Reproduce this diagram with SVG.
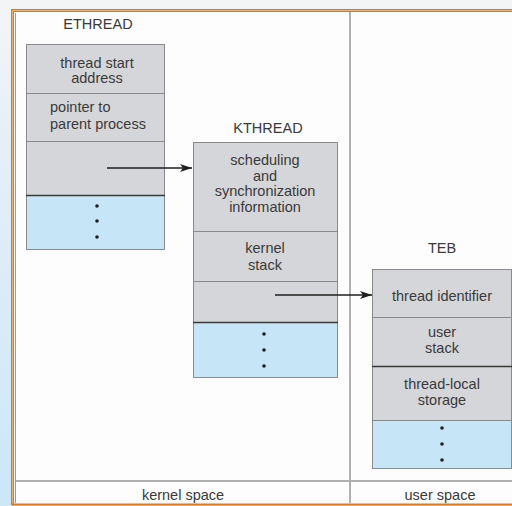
<svg xmlns="http://www.w3.org/2000/svg" width="512" height="506" viewBox="0 0 512 506">
  <defs>
    <linearGradient id="bgSide" x1="0" y1="0" x2="0" y2="1">
      <stop offset="0" stop-color="#f3f5f7"/>
      <stop offset="0.3" stop-color="#e4eff8"/>
      <stop offset="1" stop-color="#cbe7f8"/>
    </linearGradient>
    <marker id="arrow" viewBox="0 0 12 8" refX="12" refY="4" markerWidth="12" markerHeight="8" markerUnits="userSpaceOnUse" orient="auto">
      <path d="M0,0 L12,4 L0,8 L3,4 Z" fill="#1e1e1e"/>
    </marker>
  </defs>
  <style>
    text { font-family: "Liberation Sans", Arial, sans-serif; font-size: 14.5px; fill: #3a3a3a; }
    .c { text-anchor: middle; }
    .cell { fill: #d5d6d9; stroke: #8a8a8a; stroke-width: 1; }
    .more { fill: #c6e6f8; stroke: #8a8a8a; stroke-width: 1; }
    .sep { stroke: #3a3a3a; stroke-width: 1.6; }
    .dot { fill: #1e1e1e; }
    .link { stroke: #1e1e1e; stroke-width: 1.3; fill: none; marker-end: url(#arrow); }
  </style>

  <!-- page background and frame -->
  <rect x="0" y="0" width="512" height="506" fill="url(#bgSide)"/>
  <rect x="0" y="0" width="512" height="10" fill="#f3f4f6"/>
  <rect x="12" y="10" width="510" height="495" fill="#fdfdfd"/>
  <path d="M12.5,505 V10.5 H512" fill="none" stroke="#d77a20" stroke-width="3"/>
  <path d="M12.5,505 V10.5 H512" fill="none" stroke="#f0b070" stroke-width="1"/>
  <line x1="15.5" y1="13" x2="15.5" y2="503" stroke="#9a9a9a" stroke-width="1"/>
  <line x1="12" y1="504.5" x2="512" y2="504.5" stroke="#d77a20" stroke-width="2"/>

  <!-- kernel / user space split -->
  <line x1="350" y1="12" x2="350" y2="503" stroke="#b0b0b0" stroke-width="2"/>
  <line x1="16" y1="481" x2="512" y2="481" stroke="#b0b0b0" stroke-width="2"/>
  <text class="c" x="183" y="500">kernel space</text>
  <text class="c" x="440" y="500">user space</text>

  <!-- ETHREAD -->
  <g id="ethread">
    <text class="c" x="98" y="29">ETHREAD</text>
    <rect class="cell" x="26.5" y="44.5" width="138" height="49"/>
    <rect class="cell" x="26.5" y="93.5" width="138" height="48"/>
    <rect class="cell" x="26.5" y="141.5" width="138" height="54"/>
    <rect class="more" x="26.5" y="195.5" width="138" height="54"/>
    <line class="sep" x1="26" y1="195.5" x2="165" y2="195.5"/>
    <text class="c" x="97" y="68">thread start</text>
    <text class="c" x="97" y="83">address</text>
    <text x="50" y="112">pointer to</text>
    <text x="50" y="129">parent process</text>
    <circle class="dot" cx="97" cy="206" r="1.8"/>
    <circle class="dot" cx="97" cy="221" r="1.8"/>
    <circle class="dot" cx="97" cy="237" r="1.8"/>
  </g>

  <!-- KTHREAD -->
  <g id="kthread">
    <text class="c" x="268" y="133">KTHREAD</text>
    <rect class="cell" x="193.5" y="142.5" width="144" height="89"/>
    <rect class="cell" x="193.5" y="231.5" width="144" height="50"/>
    <rect class="cell" x="193.5" y="281.5" width="144" height="41"/>
    <rect class="more" x="193.5" y="322.5" width="144" height="55"/>
    <line class="sep" x1="193" y1="322.5" x2="338" y2="322.5"/>
    <text class="c" x="265" y="165">scheduling</text>
    <text class="c" x="265" y="181">and</text>
    <text class="c" x="265" y="196">synchronization</text>
    <text class="c" x="265" y="212">information</text>
    <text class="c" x="265" y="253">kernel</text>
    <text class="c" x="265" y="270">stack</text>
    <circle class="dot" cx="264" cy="334" r="1.8"/>
    <circle class="dot" cx="264" cy="350" r="1.8"/>
    <circle class="dot" cx="264" cy="366" r="1.8"/>
  </g>

  <!-- TEB -->
  <g id="teb">
    <text class="c" x="442" y="253">TEB</text>
    <rect class="cell" x="372.5" y="269.5" width="139" height="48"/>
    <rect class="cell" x="372.5" y="317.5" width="139" height="49"/>
    <rect class="cell" x="372.5" y="366.5" width="139" height="54"/>
    <rect class="more" x="372.5" y="420.5" width="139" height="48"/>
    <line class="sep" x1="372" y1="366.5" x2="512" y2="366.5"/>
    <text class="c" x="442" y="301">thread identifier</text>
    <text class="c" x="442" y="337">user</text>
    <text class="c" x="442" y="353">stack</text>
    <text class="c" x="442" y="389">thread-local</text>
    <text class="c" x="442" y="405">storage</text>
    <circle class="dot" cx="442" cy="428" r="1.8"/>
    <circle class="dot" cx="442" cy="444" r="1.8"/>
    <circle class="dot" cx="442" cy="460" r="1.8"/>
  </g>

  <!-- pointers between the structures -->
  <g id="connectors">
    <line class="link" x1="107" y1="168" x2="192" y2="168"/>
    <line class="link" x1="275" y1="295" x2="372" y2="295"/>
  </g>
</svg>
